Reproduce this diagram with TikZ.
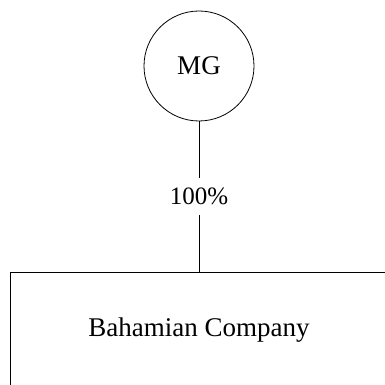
\documentclass[tikz,border=0pt]{standalone}
\usepackage{fontspec}
\setmainfont{Liberation Serif}
\begin{document}
\begin{tikzpicture}[x=1pt,y=-1pt,
  owner/.style={draw, circle, line width=0.8pt, minimum size=110pt, inner sep=0pt, font=\fontsize{27}{30}\selectfont},
  entity/.style={draw, line width=0.8pt, minimum width=420pt, minimum height=160pt, anchor=north west, inner sep=0pt},
  link/.style={line width=0.8pt},
  share/.style={inner sep=0pt, minimum height=37pt, font=\fontsize{25}{28}\selectfont}]
  \clip (0,0) rectangle (385,385);
  \fill[white] (0,0) rectangle (385,385);
  \node[owner] (mg) at (199,66) {MG};
  \node[entity] (bc) at (10,272) {};
  \node[font=\fontsize{27}{30}\selectfont] (bclabel) at (199,330) {Bahamian Company};
  \coordinate (bctop) at (199,272);
  \node[share] (pct) at (199,196.5) {100\%};
  \draw[link] (mg.south) -- (pct.north);
  \draw[link] (pct.south) -- (bctop);
\end{tikzpicture}
\end{document}
